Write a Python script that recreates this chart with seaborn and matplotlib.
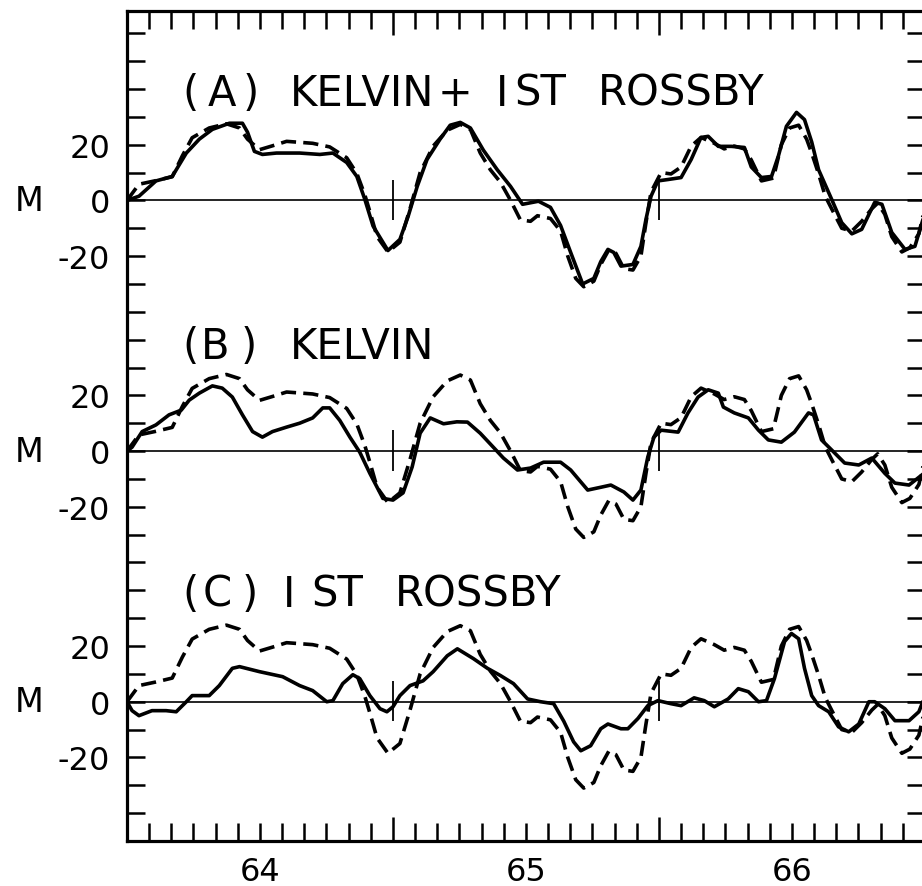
import matplotlib
matplotlib.use("Agg")
import matplotlib.pyplot as plt
import numpy as np
import seaborn as sns

# ---------------- data (years, value M) ----------------
# observed series (dashed) - same record shown in every panel
obs_t = [64.000, 64.045, 64.109, 64.170, 64.208, 64.245, 64.309, 64.374, 64.423, 64.453,
         64.498, 64.547, 64.600, 64.698, 64.762, 64.826, 64.864, 64.894, 64.913, 64.940,
         64.981, 65.026, 65.064, 65.102, 65.151, 65.204, 65.253, 65.291, 65.328, 65.366,
         65.404, 65.442, 65.479, 65.517, 65.543, 65.592, 65.630, 65.657, 65.687, 65.717,
         65.755, 65.781, 65.811, 65.838, 65.868, 65.902, 65.932, 65.951, 65.970, 66.008,
         66.045, 66.083, 66.121, 66.158, 66.208, 66.245, 66.283, 66.321, 66.347, 66.385,
         66.430, 66.460, 66.491, 66.525, 66.555, 66.574, 66.600, 66.625, 66.649, 66.687,
         66.725, 66.762, 66.800, 66.822, 66.849, 66.875, 66.913, 66.943, 66.977, 66.996]
obs_v = [0, 5.8, 7.1, 8.5, 16, 22.5, 26, 27.5, 26, 22,
         18.2, 19.6, 21.2, 20.5, 19.2, 15.3, 9.7, 2, -4, -13,
         -18.5, -15, -3, 10, 19.5, 25.2, 27.3, 25.5, 17, 11,
         6.5, 0, -7, -7.5, -5.5, -6.5, -11, -20, -28, -31,
         -29, -23, -17.8, -19, -24.5, -25, -20, -8, 3, 10,
         9.5, 12, 19.5, 22.6, 20.5, 18.5, 19.5, 18.5, 14.5, 7,
         8, 20, 26, 27, 22, 17, 9.5, 1.5, -3, -10,
         -11, -7.5, -3, -1, -5, -13, -18.5, -17, -12, -4]

# (A) Kelvin + 1st Rossby (solid)
a_t = [64.000, 64.045, 64.109, 64.170, 64.223, 64.272, 64.321, 64.385, 64.434, 64.453,
       64.479, 64.509, 64.562, 64.649, 64.725, 64.774, 64.826, 64.864, 64.894, 64.925,
       64.981, 65.026, 65.057, 65.091, 65.128, 65.177, 65.215, 65.253, 65.291, 65.340,
       65.392, 65.442, 65.487, 65.547, 65.592, 65.630, 65.668, 65.713, 65.755, 65.781,
       65.808, 65.830, 65.857, 65.902, 65.932, 65.951, 65.970, 65.996, 66.034, 66.083,
       66.121, 66.158, 66.185, 66.223, 66.272, 66.321, 66.347, 66.385, 66.423, 66.449,
       66.479, 66.517, 66.547, 66.574, 66.600, 66.649, 66.687, 66.725, 66.762, 66.811,
       66.838, 66.875, 66.925, 66.962, 66.996]
a_v = [0, 1.5, 7, 8.6, 17, 22, 25.5, 27.7, 27.7, 24.5,
       17.6, 16.5, 17, 17, 16.5, 17, 13.6, 8.6, 0.4, -9.2,
       -18, -14, -5.7, 5, 14.7, 22, 27, 28, 26, 18,
       11, 5, -1.4, -0.3, -2.5, -9, -18.7, -30, -28, -22,
       -17.6, -18.7, -23.6, -23, -16.5, -6.8, 1.5, 7, 7.5, 8.2,
       14.7, 22.6, 23, 19.4, 19.4, 19, 12, 8.2, 8.6, 16,
       26.6, 31.6, 29, 21, 11, 0.4, -8, -12, -10.4, -0.7,
       -1.4, -11.5, -17.6, -16.5, -5.7]

# (B) Kelvin (solid)
b_t = [64.000, 64.019, 64.057, 64.109, 64.158, 64.204, 64.234, 64.272, 64.321, 64.358,
       64.396, 64.434, 64.472, 64.509, 64.547, 64.600, 64.649, 64.698, 64.736, 64.762,
       64.800, 64.838, 64.875, 64.913, 64.962, 65.000, 65.038, 65.072, 65.102, 65.140,
       65.190, 65.240, 65.280, 65.328, 65.377, 65.415, 65.468, 65.517, 65.566, 65.630,
       65.668, 65.732, 65.781, 65.819, 65.868, 65.902, 65.932, 65.958, 65.981, 66.008,
       66.072, 66.109, 66.147, 66.185, 66.223, 66.242, 66.283, 66.336, 66.374, 66.411,
       66.460, 66.509, 66.562, 66.581, 66.611, 66.649, 66.698, 66.751, 66.800, 66.849,
       66.887, 66.940, 66.996]
b_v = [0, 1.4, 7, 9.4, 13, 14.7, 18.3, 20.8, 23.4, 22.6,
       19.4, 13, 7, 5, 7, 8.6, 10, 11.9, 15.5, 15.5,
       11, 5, -0.4, -8, -17, -17.6, -15, -5.7, 6.4, 11.9,
       9.8, 10.5, 10.4, 6.4, 1.4, -2.5, -6.8, -6.1, -4, -4,
       -6.8, -14, -13, -12.2, -14.7, -17.6, -14, -2.1, 5, 7.5,
       6.8, 13.7, 19.4, 22, 20.8, 15.8, 13.7, 11.9, 7.5, 4,
       3.2, 6.8, 13.7, 13, 4, 0.4, -4.3, -5, -2.5, -8,
       -11.5, -12.2, -8]

# (C) 1st Rossby (solid)
c_t = [64.000, 64.019, 64.045, 64.094, 64.147, 64.185, 64.223, 64.245, 64.309, 64.347,
       64.396, 64.423, 64.498, 64.585, 64.649, 64.698, 64.751, 64.774, 64.811, 64.849,
       64.875, 64.913, 64.951, 64.977, 65.000, 65.026, 65.064, 65.113, 65.151, 65.204,
       65.242, 65.302, 65.355, 65.404, 65.453, 65.506, 65.555, 65.604, 65.642, 65.679,
       65.706, 65.743, 65.781, 65.808, 65.857, 65.883, 65.921, 65.958, 65.996, 66.045,
       66.083, 66.132, 66.170, 66.208, 66.260, 66.298, 66.336, 66.374, 66.404, 66.434,
       66.472, 66.498, 66.525, 66.547, 66.574, 66.600, 66.638, 66.675, 66.713, 66.751,
       66.789, 66.811, 66.849, 66.887, 66.940, 66.977, 66.996]
c_v = [0, -3.2, -5, -3.2, -3.2, -3.6, 0, 2.2, 2.2, 5.8,
       12, 12.6, 10.8, 9, 5.8, 4, 0, 0.4, 6.5, 9.7,
       8.3, 2.2, -2.5, -3.6, -1.8, 2.2, 5.8, 7.5, 10.8, 16.5,
       19, 15.5, 12, 9.4, 6.5, 1, 0, -0.7, -7, -14.4,
       -17.6, -15.8, -9.7, -8, -9.7, -9.7, -6, -1.4, 0.4, -0.7,
       -1.4, 1.4, 0.4, -1.8, 1, 4.7, 3.6, 0, 0.4, 8.3,
       21.6, 24.5, 22.6, 12, 2.2, -1.4, -3.6, -9, -10.8, -8,
       0, 0, -2.5, -6.8, -6.8, -3.6, 1]

panel_titles = [["(", "A", ")", "KELVIN", "+", "I", "ST", "ROSSBY"],
                ["(", "B", ")", "KELVIN"],
                ["(", "C", ")", "I", "ST", "ROSSBY"]]
year_labels = ["64", "65", "66"]
marker_years = [65.0, 66.0]

# ---------------- layout / style ----------------
offsets = [180, 90, 0]                  # vertical placement of panels A, B, C
title_x = [[64.238, 64.355, 64.464, 64.883, 65.234, 65.411, 65.555, 66.083],
           [64.238, 64.332, 64.457, 64.883],
           [64.238, 64.340, 64.460, 64.608, 64.792, 65.321]]
title_dy = [34.4, 33.3, 34.5]

sns.set_theme(style="white")
plt.rcParams['font.family'] = ['DejaVu Sans']
for k in ["text.color", "axes.labelcolor", "xtick.color", "ytick.color", "axes.edgecolor"]:
    plt.rcParams[k] = "black"

W, H = 922, 887
fig = plt.figure(figsize=(W / 100, H / 100), dpi=100)
ax = fig.add_axes([127 / W, 45 / H, (925 - 127) / W, (842 - 12) / H])
ax.set_facecolor("white")

LW = 2.6
for off, st, sv, parts, xs, dy in zip(offsets, [a_t, b_t, c_t], [a_v, b_v, c_v],
                                      panel_titles, title_x, title_dy):
    ax.axhline(off, color="black", lw=1.2, zorder=2)
    sns.lineplot(x=obs_t, y=np.array(obs_v) + off, ax=ax, color="black", lw=LW,
                 linestyle=(0, (4.2, 2.0)), estimator=None, errorbar=None, sort=False,
                 zorder=3)
    sns.lineplot(x=st, y=np.array(sv) + off, ax=ax, color="black", lw=LW,
                 estimator=None, errorbar=None, sort=False, zorder=4,
                 solid_joinstyle="round")
    ax.vlines(marker_years, off - 7, off + 7.5, color="black", lw=1.3, zorder=4)
    for p, x in zip(parts, xs):
        ax.text(x, off + dy, p, fontsize=30, ha="center", va="baseline", color="black")
    ax.text(-0.123, off, "M", transform=ax.get_yaxis_transform(), fontsize=24,
            ha="center", va="center", color="black")

ax.set_xlim(64.0, 67.0)
ax.set_ylim(-50, 248)

# x ticks: long at year boundaries, monthly minor ticks
ax.set_xticks(marker_years)
ax.set_xticklabels([])
ax.set_xticks(np.arange(64.0, 67.001, 1 / 12), minor=True)
ax.tick_params(axis="x", which="major", direction="in", length=17.5, width=1.8,
               top=True, bottom=True, labelbottom=False)
ax.tick_params(axis="x", which="minor", direction="in", length=13, width=1.8,
               top=True, bottom=True)

sec = ax.secondary_xaxis("bottom")
sec.set_xticks([64.5, 65.5, 66.5], labels=year_labels)
sec.tick_params(length=0, pad=11, labelsize=23, labelcolor="black")
for s in sec.spines.values():
    s.set_visible(False)

# y ticks
major_y, major_lbl = [], []
for off in offsets:
    for v, l in zip([20, 0, -20], ["20", "0", "-20"]):
        major_y.append(off + v)
        major_lbl.append(l)
ax.set_yticks(major_y)
ax.set_yticklabels(major_lbl, fontsize=23, color="black")
ax.set_yticks(np.arange(-40, 241, 10), minor=True)
ax.tick_params(axis="y", which="both", direction="in", length=13, width=1.8,
               left=True, right=True, pad=12, labelcolor="black")

for s in ax.spines.values():
    s.set_visible(True)
    s.set_linewidth(2.3)
    s.set_color("black")

ax.set_xlabel("")
ax.set_ylabel("")
fig.savefig("out.png", dpi=100, facecolor="white")
